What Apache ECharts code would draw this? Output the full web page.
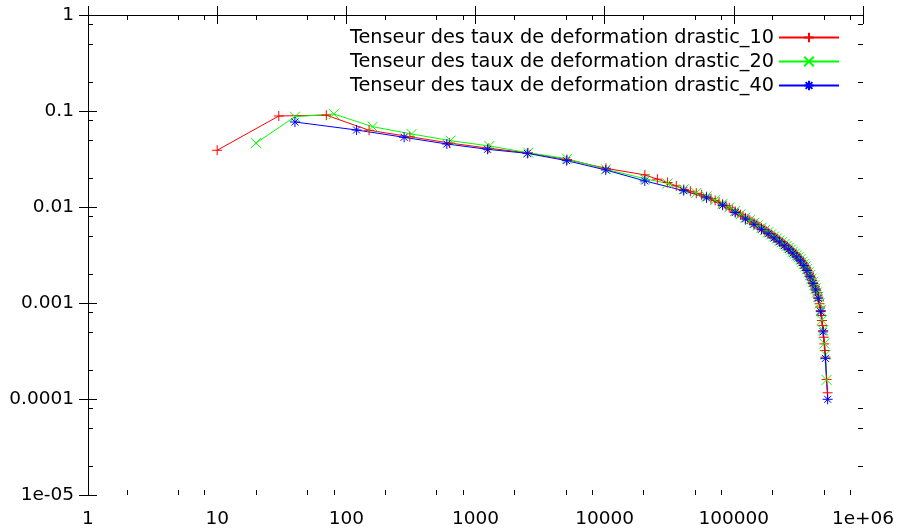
<!DOCTYPE html>
<html>
<head>
<meta charset="utf-8">
<script src="https://cdn.jsdelivr.net/npm/echarts@6/dist/echarts.min.js"></script>
<style>
  html, body { margin: 0; padding: 0; background: #fff; }
  #chart { width: 901px; height: 532px; }
</style>
</head>
<body>
<div id="chart"></div>
<script>
// series names
var seriesNames = [
    'Tenseur des taux de deformation drastic_10',
    'Tenseur des taux de deformation drastic_20',
    'Tenseur des taux de deformation drastic_40'
];

// tick labels (by decade exponent)
var xTickLabels = ['1', '10', '100', '1000', '10000', '100000', '1e+06'];
var yTickLabels = ['1e-05', '0.0001', '0.001', '0.01', '0.1', '1'];
var minorMults = [2, 5, 8];

// [x, y]
var data10 = [
    [10,0.039],[30,0.0887],[70,0.0905],[150,0.0630],[310,0.054],[630,0.0464],[1270,0.0409],[2550,0.0366],
    [5110,0.0312],[10230,0.0253],[20470,0.0216],[25590,0.0195],[30710,0.0180],[35830,0.0166],[40950,0.0152],
    [46070,0.0146],[51190,0.0139],[56310,0.0134],[61430,0.0128],[66550,0.0122],[71670,0.0117],[76790,0.0112],
    [81910,0.0107],[87030,0.0103],[92150,0.00982],[97270,0.0094],[102390,0.00899],[107510,0.00865],
    [112630,0.00832],[117750,0.00802],[122870,0.00771],[127990,0.00746],[133110,0.00723],[138230,0.00702],
    [143350,0.00679],[148470,0.00659],[153590,0.0064],[158710,0.00621],[163830,0.00603],[168950,0.00586],
    [174070,0.00571],[179190,0.00556],[184310,0.00542],[189430,0.00528],[194550,0.00515],[199670,0.00502],
    [204790,0.0049],[209910,0.00479],[215030,0.00467],[220150,0.00456],[225270,0.00446],[230390,0.00436],
    [235510,0.00426],[240630,0.00416],[245750,0.00406],[250870,0.00398],[255990,0.00389],[261110,0.00381],
    [266230,0.00373],[271350,0.00365],[276470,0.00356],[281590,0.00348],[286710,0.0034],[291830,0.00333],
    [296950,0.00325],[302070,0.00318],[307190,0.0031],[312310,0.00303],[317430,0.00296],[322550,0.0029],
    [327670,0.00283],[332790,0.00275],[337910,0.00267],[343030,0.0026],[348150,0.00253],[353270,0.00245],
    [358390,0.00238],[363510,0.00231],[368630,0.00224],[373750,0.00216],[378870,0.00208],[383990,0.002],
    [389110,0.00193],[394230,0.00185],[399350,0.00178],[404470,0.00171],[409590,0.00164],[414710,0.00158],
    [419830,0.00152],[424950,0.00147],[430070,0.00141],[435190,0.00134],[440310,0.00128],[445430,0.00121],
    [450550,0.00115],[455670,0.00106],[460790,0.000982],[465910,0.000906],[471030,0.000836],[476150,0.00074],
    [481270,0.000656],[486390,0.000581],[491510,0.000515],[496630,0.00044],[501750,0.000375],[506870,0.00032],
    [511990,0.000273],[522230,0.00016],[532470,0.000116]
];
var data20 = [
    [20,0.0464],[40,0.0872],[80,0.0931],[160,0.0686],[320,0.0576],[640,0.0491],[1280,0.0432],[2560,0.0368],
    [5120,0.0318],[10240,0.0247],[20480,0.0197],[30720,0.0176],[40960,0.0153],[51200,0.014],[61440,0.0129],
    [71680,0.0118],[81920,0.0108],[92160,0.00989],[102400,0.00906],[112640,0.00839],[122880,0.00776],
    [133120,0.00729],[143360,0.00684],[153600,0.00644],[163840,0.00607],[174080,0.00575],[184320,0.00546],
    [194560,0.00519],[204800,0.00493],[215040,0.0047],[225280,0.00449],[235520,0.00429],[245760,0.00409],
    [256000,0.00392],[266240,0.00376],[276480,0.00359],[286720,0.00343],[296960,0.00327],[307200,0.00313],
    [317440,0.00299],[327680,0.00285],[337920,0.00269],[348160,0.00255],[358400,0.0024],[368640,0.00225],
    [378880,0.00209],[389120,0.00195],[399360,0.00179],[409600,0.00166],[419840,0.00153],[430080,0.00142],
    [440320,0.00129],[450560,0.00116],[460800,0.000989],[471040,0.000841],[481280,0.000661],[491520,0.000519],
    [501760,0.000378],[512000,0.000288],[522240,0.000158]
];
var data40 = [
    [40,0.0768],[120,0.0634],[280,0.0532],[600,0.0453],[1240,0.0399],[2520,0.0362],[5080,0.0304],[10200,0.0243],
    [20440,0.0187],[40920,0.0148],[61400,0.01245],[81880,0.01042],[102360,0.00875],[122840,0.0075],
    [143320,0.00661],[163800,0.00586],[184280,0.00527],[204760,0.00476],[225240,0.00434],[245720,0.00395],
    [266200,0.00363],[286680,0.00331],[307160,0.00302],[327640,0.00275],[348120,0.00246],[368600,0.00218],
    [389080,0.00188],[409560,0.0016],[430040,0.00137],[450520,0.00112],[471000,0.000813],[491480,0.000501],
    [511960,0.000265],[532440,0.0000993]
];

var colors = ['#ff0000', '#00ff00', '#0000ff'];
var symbols = [
    'path://M5,0L5,10M0,5L10,5',
    'path://M0,0L10,10M10,0L0,10',
    'path://M5,0L5,10M0,5L10,5M1.5,1.5L8.5,8.5M8.5,1.5L1.5,8.5'
];

function minorTicks(lo, hi) {
    var out = [];
    for (var d = lo; d < hi; d++) {
        minorMults.forEach(function (m) { out.push(d + Math.log10(m)); });
    }
    return out;
}

var font = 'DejaVu Sans';
var black = '#000';

function majorAxis(pos, isX, showLabel) {
    return {
        type: 'log',
        logBase: 10,
        position: pos,
        min: isX ? 1 : 1e-5,
        max: isX ? 1e6 : 1,
        axisLine: { show: true, lineStyle: { color: black, width: 1 } },
        axisTick: { show: true, inside: true, length: 9, lineStyle: { color: black, width: 1 } },
        splitLine: { show: false },
        axisLabel: {
            show: showLabel,
            interval: 0,
            color: black,
            fontFamily: font,
            fontSize: 18.5,
            margin: isX ? 15 : 14,
            formatter: function (v) {
                var e = Math.round(Math.log10(v));
                return isX ? xTickLabels[e] : yTickLabels[e + 5];
            }
        }
    };
}

function minorAxis(pos, isX) {
    return {
        type: 'value',
        position: pos,
        min: isX ? 0 : -5,
        max: isX ? 6 : 0,
        axisLine: { show: false },
        axisLabel: { show: false },
        splitLine: { show: false },
        axisTick: {
            show: true, inside: true, length: 5,
            customValues: isX ? minorTicks(0, 6) : minorTicks(-5, 0),
            lineStyle: { color: black, width: 1 }
        }
    };
}

var chart = echarts.init(document.getElementById('chart'));

var series = [data10, data20, data40].map(function (d, i) {
    return {
        name: seriesNames[i],
        type: 'line',
        xAxisIndex: 0,
        yAxisIndex: 0,
        data: d,
        symbol: symbols[i],
        symbolSize: 10,
        symbolKeepAspect: true,
        showAllSymbol: true,
        lineStyle: { color: colors[i], width: 1 },
        itemStyle: { color: colors[i], borderColor: colors[i], borderWidth: 1 },
        emphasis: { disabled: true }
    };
});

chart.setOption({
    animation: false,
    backgroundColor: '#fff',
    color: colors,
    grid: { left: 88, right: 38, top: 15, bottom: 37, outerBoundsMode: 'none' },
    legend: {
        orient: 'vertical',
        right: 61,
        top: 28,
        padding: 0,
        align: 'right',
        itemWidth: 60,
        itemHeight: 12,
        itemGap: 5,
        textStyle: { color: black, fontFamily: font, fontSize: 19.3 },
        data: seriesNames
    },
    xAxis: [
        majorAxis('bottom', true, true),
        majorAxis('top', true, false),
        minorAxis('bottom', true),
        minorAxis('top', true)
    ],
    yAxis: [
        majorAxis('left', false, true),
        majorAxis('right', false, false),
        minorAxis('left', false),
        minorAxis('right', false)
    ],
    series: series
});
</script>
</body>
</html>
